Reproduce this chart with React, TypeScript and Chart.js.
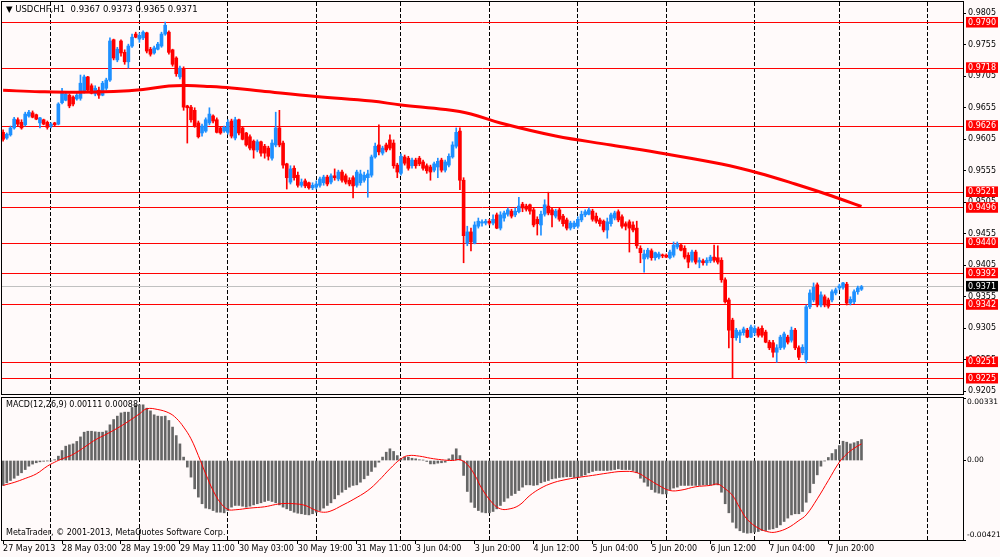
import React, { useEffect, useRef } from "react";
import { Chart, registerables } from "chart.js";
Chart.register(...registerables);

const FONT = "'DejaVu Sans', Verdana, sans-serif";
const BULL = "#1E90FF";
const BEAR = "#FF0000";

// ---- hourly candles USDCHF H1 (index 0 = 27 May 2013 11:00) ----
const openP = [
  0.9616,0.9607,0.9612,0.9623,0.9636,0.9632,0.9628,0.9642,0.9647,0.9644,
  0.9631,0.9636,0.9632,0.9626,0.9631,0.9629,0.9663,0.9667,0.9675,0.9672,
  0.9669,0.9670,0.9682,0.9704,0.9690,0.9677,0.9683,0.9675,0.9686,0.9699,
  0.9763,0.9731,0.9761,0.9743,0.9728,0.9753,0.9772,0.9764,0.9766,0.9774,
  0.9748,0.9742,0.9748,0.9753,0.9772,0.9775,0.9747,0.9734,0.9704,0.9717,
  0.9658,0.9656,0.9651,0.9631,0.9615,0.9618,0.9631,0.9642,0.9636,0.9623,
  0.9618,0.9616,0.9634,0.9607,0.9636,0.9623,0.9615,0.9609,0.9602,0.9588,
  0.9601,0.9594,0.9591,0.9575,0.9596,0.9623,0.9599,0.9566,0.9537,0.9559,
  0.9548,0.9532,0.9539,0.9536,0.9528,0.9529,0.9532,0.9536,0.9545,0.9537,
  0.9547,0.9542,0.9553,0.9547,0.9540,0.9544,0.9532,0.9536,0.9540,0.9544,
  0.9548,0.9577,0.9596,0.9583,0.9596,0.9604,0.9599,0.9564,0.9551,0.9577,
  0.9575,0.9563,0.9572,0.9575,0.9569,0.9563,0.9561,0.9556,0.9561,0.9572,
  0.9556,0.9564,0.9577,0.9594,0.9618,0.9540,0.9440,0.9458,0.9440,0.9467,
  0.9472,0.9472,0.9475,0.9472,0.9485,0.9464,0.9480,0.9486,0.9491,0.9485,
  0.9490,0.9502,0.9499,0.9501,0.9493,0.9478,0.9469,0.9486,0.9499,0.9493,
  0.9483,0.9493,0.9483,0.9477,0.9464,0.9466,0.9467,0.9477,0.9485,0.9486,
  0.9491,0.9483,0.9477,0.9475,0.9461,0.9471,0.9480,0.9490,0.9482,0.9471,
  0.9474,0.9469,0.9464,0.9432,0.9415,0.9418,0.9428,0.9417,0.9418,0.9421,
  0.9421,0.9417,0.9421,0.9434,0.9437,0.9432,0.9421,0.9413,0.9426,0.9410,
  0.9412,0.9409,0.9412,0.9418,0.9417,0.9413,0.9382,0.9350,0.9318,0.9290,
  0.9294,0.9298,0.9302,0.9291,0.9298,0.9304,0.9305,0.9299,0.9283,0.9282,
  0.9267,0.9274,0.9275,0.9291,0.9286,0.9302,0.9274,0.9266,0.9255,0.9339,
  0.9350,0.9374,0.9342,0.9355,0.9350,0.9350,0.9361,0.9369,0.9370,0.9375,
  0.9345,0.9347,0.9363,0.9367,
];
const highP = [
  0.9620,0.9615,0.9626,0.9640,0.9639,0.9636,0.9648,0.9651,0.9650,0.9645,
  0.9640,0.9637,0.9634,0.9631,0.9632,0.9663,0.9686,0.9680,0.9677,0.9674,
  0.9678,0.9707,0.9707,0.9705,0.9693,0.9690,0.9688,0.9697,0.9702,0.9766,
  0.9764,0.9751,0.9763,0.9747,0.9756,0.9772,0.9775,0.9774,0.9777,0.9775,
  0.9751,0.9753,0.9759,0.9775,0.9791,0.9777,0.9748,0.9736,0.9721,0.9720,
  0.9659,0.9659,0.9655,0.9634,0.9629,0.9639,0.9655,0.9644,0.9639,0.9624,
  0.9626,0.9636,0.9637,0.9640,0.9637,0.9624,0.9616,0.9612,0.9604,0.9604,
  0.9602,0.9597,0.9594,0.9604,0.9648,0.9651,0.9602,0.9567,0.9563,0.9563,
  0.9553,0.9542,0.9542,0.9537,0.9536,0.9539,0.9545,0.9548,0.9548,0.9550,
  0.9558,0.9556,0.9556,0.9550,0.9544,0.9547,0.9556,0.9556,0.9553,0.9556,
  0.9580,0.9599,0.9628,0.9594,0.9599,0.9612,0.9604,0.9567,0.9582,0.9580,
  0.9578,0.9575,0.9575,0.9578,0.9572,0.9566,0.9564,0.9569,0.9575,0.9575,
  0.9572,0.9582,0.9601,0.9623,0.9623,0.9544,0.9467,0.9464,0.9474,0.9480,
  0.9477,0.9478,0.9478,0.9485,0.9488,0.9490,0.9491,0.9496,0.9494,0.9496,
  0.9513,0.9505,0.9502,0.9502,0.9496,0.9482,0.9491,0.9509,0.9521,0.9496,
  0.9494,0.9496,0.9486,0.9480,0.9475,0.9475,0.9482,0.9491,0.9493,0.9496,
  0.9494,0.9488,0.9480,0.9477,0.9480,0.9488,0.9491,0.9493,0.9485,0.9474,
  0.9477,0.9474,0.9475,0.9436,0.9429,0.9432,0.9431,0.9426,0.9426,0.9423,
  0.9423,0.9429,0.9442,0.9442,0.9440,0.9436,0.9425,0.9429,0.9429,0.9417,
  0.9415,0.9417,0.9421,0.9437,0.9436,0.9417,0.9385,0.9353,0.9321,0.9305,
  0.9302,0.9307,0.9305,0.9310,0.9309,0.9307,0.9309,0.9302,0.9286,0.9286,
  0.9279,0.9294,0.9299,0.9294,0.9307,0.9305,0.9277,0.9279,0.9342,0.9366,
  0.9377,0.9377,0.9363,0.9358,0.9353,0.9366,0.9369,0.9375,0.9378,0.9378,
  0.9355,0.9366,0.9372,0.9373,
];
const lowP = [
  0.9602,0.9605,0.9610,0.9621,0.9626,0.9621,0.9626,0.9640,0.9639,0.9636,
  0.9623,0.9628,0.9621,0.9623,0.9626,0.9628,0.9661,0.9666,0.9655,0.9658,
  0.9667,0.9667,0.9678,0.9680,0.9677,0.9674,0.9670,0.9674,0.9683,0.9697,
  0.9731,0.9728,0.9737,0.9724,0.9718,0.9751,0.9766,0.9759,0.9763,0.9742,
  0.9737,0.9740,0.9747,0.9751,0.9770,0.9740,0.9721,0.9705,0.9701,0.9651,
  0.9599,0.9632,0.9624,0.9607,0.9610,0.9616,0.9628,0.9631,0.9615,0.9613,
  0.9616,0.9613,0.9607,0.9604,0.9612,0.9604,0.9594,0.9588,0.9575,0.9585,
  0.9578,0.9575,0.9572,0.9572,0.9593,0.9593,0.9559,0.9526,0.9534,0.9540,
  0.9529,0.9529,0.9528,0.9526,0.9525,0.9526,0.9529,0.9532,0.9531,0.9534,
  0.9540,0.9539,0.9537,0.9534,0.9531,0.9512,0.9529,0.9532,0.9537,0.9513,
  0.9545,0.9575,0.9580,0.9580,0.9585,0.9588,0.9559,0.9544,0.9548,0.9564,
  0.9556,0.9559,0.9559,0.9563,0.9556,0.9551,0.9540,0.9553,0.9544,0.9553,
  0.9553,0.9561,0.9575,0.9591,0.9525,0.9409,0.9436,0.9428,0.9439,0.9464,
  0.9467,0.9469,0.9469,0.9469,0.9463,0.9461,0.9475,0.9483,0.9480,0.9482,
  0.9488,0.9490,0.9491,0.9486,0.9466,0.9453,0.9453,0.9483,0.9485,0.9466,
  0.9480,0.9475,0.9467,0.9461,0.9461,0.9463,0.9464,0.9474,0.9482,0.9485,
  0.9475,0.9472,0.9467,0.9458,0.9448,0.9467,0.9477,0.9474,0.9464,0.9461,
  0.9426,0.9458,0.9432,0.9409,0.9394,0.9415,0.9413,0.9413,0.9415,0.9417,
  0.9417,0.9415,0.9418,0.9431,0.9428,0.9415,0.9401,0.9410,0.9407,0.9401,
  0.9405,0.9405,0.9409,0.9410,0.9407,0.9378,0.9345,0.9274,0.9226,0.9286,
  0.9282,0.9294,0.9290,0.9290,0.9294,0.9291,0.9291,0.9282,0.9271,0.9259,
  0.9251,0.9271,0.9272,0.9280,0.9283,0.9271,0.9255,0.9263,0.9250,0.9336,
  0.9347,0.9339,0.9339,0.9339,0.9337,0.9347,0.9358,0.9366,0.9367,0.9342,
  0.9342,0.9344,0.9359,0.9365,
];
const closeP = [
  0.9605,0.9613,0.9623,0.9637,0.9629,0.9623,0.9645,0.9648,0.9640,0.9637,
  0.9639,0.9629,0.9624,0.9629,0.9628,0.9661,0.9680,0.9677,0.9658,0.9661,
  0.9675,0.9694,0.9704,0.9683,0.9678,0.9686,0.9675,0.9694,0.9699,0.9761,
  0.9734,0.9748,0.9742,0.9728,0.9753,0.9767,0.9767,0.9770,0.9775,0.9745,
  0.9740,0.9750,0.9756,0.9772,0.9786,0.9743,0.9724,0.9709,0.9718,0.9656,
  0.9655,0.9636,0.9626,0.9609,0.9626,0.9636,0.9645,0.9634,0.9616,0.9615,
  0.9624,0.9632,0.9610,0.9636,0.9615,0.9605,0.9596,0.9591,0.9588,0.9601,
  0.9583,0.9583,0.9578,0.9599,0.9623,0.9596,0.9564,0.9544,0.9558,0.9544,
  0.9532,0.9537,0.9531,0.9528,0.9532,0.9534,0.9542,0.9545,0.9534,0.9547,
  0.9544,0.9553,0.9540,0.9537,0.9534,0.9531,0.9553,0.9550,0.9548,0.9550,
  0.9577,0.9594,0.9585,0.9591,0.9588,0.9591,0.9563,0.9553,0.9578,0.9567,
  0.9559,0.9572,0.9563,0.9566,0.9559,0.9555,0.9553,0.9566,0.9570,0.9556,
  0.9569,0.9578,0.9596,0.9616,0.9540,0.9452,0.9458,0.9442,0.9469,0.9475,
  0.9474,0.9475,0.9472,0.9478,0.9464,0.9485,0.9488,0.9493,0.9483,0.9491,
  0.9499,0.9496,0.9494,0.9491,0.9469,0.9471,0.9486,0.9501,0.9488,0.9485,
  0.9491,0.9478,0.9471,0.9464,0.9472,0.9472,0.9478,0.9486,0.9490,0.9493,
  0.9478,0.9475,0.9471,0.9461,0.9474,0.9485,0.9488,0.9477,0.9467,0.9467,
  0.9464,0.9461,0.9436,0.9425,0.9423,0.9429,0.9417,0.9425,0.9423,0.9420,
  0.9418,0.9426,0.9437,0.9439,0.9429,0.9418,0.9410,0.9426,0.9410,0.9413,
  0.9409,0.9413,0.9418,0.9413,0.9410,0.9382,0.9347,0.9302,0.9290,0.9302,
  0.9299,0.9304,0.9291,0.9307,0.9305,0.9294,0.9294,0.9283,0.9274,0.9267,
  0.9274,0.9291,0.9296,0.9283,0.9302,0.9274,0.9259,0.9275,0.9339,0.9361,
  0.9370,0.9342,0.9358,0.9342,0.9340,0.9363,0.9366,0.9372,0.9377,0.9345,
  0.9351,0.9363,0.9369,0.9371,
];

// ---- moving average (thick red), read at sample bars ----
const maIdx = [0,10,20,30,38,45,50,56,62,70,85,100,108,120,127,135,150,165,180,195,205,215,225,233];
const maVal = [0.96827,0.96805,0.96795,0.96808,0.96840,0.96895,0.96903,0.96887,0.96863,0.96816,0.96729,0.96657,0.96594,0.96522,0.96451,0.96308,0.96102,0.95959,0.95816,0.95657,0.95515,0.95340,0.95150,0.94983];

// ---- MACD(12,26,9) ----
const macdHist = [
  -0.00132,-0.00118,-0.00106,-0.00094,-0.00079,-0.00065,-0.00048,-0.00030,-0.00019,-0.00012,
  -0.00007,-0.00004,-0.00002,-0.00002,0.00004,0.00023,0.00053,0.00076,0.00083,0.00088,
  0.00101,0.00125,0.00150,0.00155,0.00155,0.00152,0.00150,0.00150,0.00157,0.00189,
  0.00217,0.00235,0.00252,0.00256,0.00256,0.00281,0.00295,0.00295,0.00295,0.00277,
  0.00263,0.00242,0.00235,0.00233,0.00235,0.00212,0.00177,0.00132,0.00088,0.00018,
  -0.00035,-0.00088,-0.00150,-0.00194,-0.00229,-0.00252,-0.00256,-0.00265,-0.00274,-0.00274,
  -0.00277,-0.00265,-0.00247,-0.00238,-0.00238,-0.00242,-0.00247,-0.00242,-0.00235,-0.00229,
  -0.00224,-0.00217,-0.00212,-0.00217,-0.00224,-0.00235,-0.00247,-0.00256,-0.00265,-0.00274,
  -0.00279,-0.00282,-0.00286,-0.00288,-0.00282,-0.00274,-0.00265,-0.00252,-0.00238,-0.00224,
  -0.00203,-0.00182,-0.00168,-0.00154,-0.00141,-0.00132,-0.00129,-0.00115,-0.00097,-0.00079,
  -0.00058,-0.00035,-0.00009,0.00018,0.00044,0.00062,0.00048,0.00026,0.00009,0.00018,
  0.00018,0.00012,0.00009,0.00004,0.00002,-0.00005,-0.00018,-0.00018,-0.00014,-0.00012,
  -0.00009,0.00009,0.00030,0.00062,0.00026,-0.00079,-0.00164,-0.00221,-0.00249,-0.00265,
  -0.00274,-0.00277,-0.00277,-0.00270,-0.00256,-0.00238,-0.00217,-0.00199,-0.00185,-0.00175,
  -0.00159,-0.00141,-0.00129,-0.00129,-0.00132,-0.00129,-0.00118,-0.00111,-0.00106,-0.00097,
  -0.00094,-0.00090,-0.00088,-0.00086,-0.00086,-0.00090,-0.00088,-0.00083,-0.00076,-0.00065,
  -0.00058,-0.00053,-0.00053,-0.00053,-0.00053,-0.00051,-0.00048,-0.00044,-0.00048,-0.00048,
  -0.00048,-0.00053,-0.00065,-0.00094,-0.00115,-0.00136,-0.00154,-0.00168,-0.00173,-0.00177,
  -0.00177,-0.00154,-0.00146,-0.00141,-0.00132,-0.00132,-0.00132,-0.00132,-0.00132,-0.00132,
  -0.00129,-0.00129,-0.00129,-0.00129,-0.00129,-0.00168,-0.00229,-0.00277,-0.00327,-0.00358,
  -0.00372,-0.00381,-0.00385,-0.00383,-0.00379,-0.00376,-0.00371,-0.00371,-0.00365,-0.00362,
  -0.00355,-0.00341,-0.00323,-0.00305,-0.00288,-0.00282,-0.00282,-0.00270,-0.00221,-0.00171,
  -0.00122,-0.00076,-0.00030,-0.00002,0.00016,0.00037,0.00058,0.00079,0.00102,0.00097,
  0.00088,0.00094,0.00101,0.00111,
];
const sigIdx = [0,3,6,9,12,14,16,18,20,23,25,28,31,34,37,39,42,45,47,49,51,53,55,57,59,61,63,67,71,74,76,79,82,85,87,89,92,95,99,102,105,108,110,113,116,119,122,124,126,128,130,133,135,137,140,143,146,149,152,156,160,164,168,172,175,178,181,184,188,192,194,196,198,200,202,205,208,210,213,216,218,221,224,227,229,231,233];
const sigVal = [-0.00132,-0.00116,-0.00095,-0.00071,-0.00030,-0.00009,0.00009,0.00023,0.00044,0.00083,0.00109,0.00139,0.00171,0.00207,0.00247,0.00274,0.00270,0.00252,0.00224,0.00177,0.00115,0.00026,-0.00071,-0.00159,-0.00224,-0.00259,-0.00261,-0.00252,-0.00245,-0.00233,-0.00228,-0.00229,-0.00238,-0.00265,-0.00274,-0.00267,-0.00238,-0.00207,-0.00159,-0.00106,-0.00044,0.00009,0.00026,0.00023,0.00012,0.00004,0.00000,0.00004,-0.00021,-0.00076,-0.00150,-0.00229,-0.00256,-0.00258,-0.00238,-0.00185,-0.00146,-0.00120,-0.00104,-0.00090,-0.00079,-0.00067,-0.00058,-0.00064,-0.00097,-0.00132,-0.00159,-0.00157,-0.00139,-0.00132,-0.00125,-0.00150,-0.00185,-0.00252,-0.00312,-0.00358,-0.00379,-0.00378,-0.00357,-0.00318,-0.00288,-0.00203,-0.00106,-0.00009,0.00034,0.00065,0.00088];

// ---- horizontal levels, axis ticks, time labels ----
const levelPrices = [0.9790,0.9718,0.9626,0.9521,0.9496,0.9440,0.9392,0.9342,0.9251,0.9225];
const bidPrice = 0.9371;
const priceTicks = [0.9205,0.9255,0.9305,0.9355,0.9405,0.9455,0.9505,0.9555,0.9605,0.9655,0.9705,0.9755,0.9805];
const macdTickVals = [0.00331, 0, -0.00421];
const macdTickText = ["0.00331", "0.00", "-0.00421"];
const timeIdx = [0,16,32,48,64,80,96,112,128,144,160,176,192,208,224];
const timeText = ["27 May 2013","28 May 03:00","28 May 19:00","29 May 11:00","30 May 03:00","30 May 19:00","31 May 11:00","3 Jun 04:00","3 Jun 20:00","4 Jun 12:00","5 Jun 04:00","5 Jun 20:00","6 Jun 12:00","7 Jun 04:00","7 Jun 20:00"];
const dayIdx = [13,37,61,85,108,132,156,180,204,227,251];

const XMIN = -0.3;
const XMAX = 260.56;
const PMIN = 0.92007;
const PMAX = 0.98229;
const MMIN = -0.00421;
const MMAX = 0.00331;

const near = (a: number, b: number) => Math.abs(a - b) < 1e-7;
const kindOf = (v: number | undefined) => {
  if (v === undefined) return "tick";
  if (levelPrices.some((l) => near(l, v))) return "level";
  if (near(v, bidPrice)) return "bid";
  return "tick";
};

const noPad = (s: any) => {
  s.paddingTop = 0;
  s.paddingBottom = 0;
  s.paddingLeft = 0;
  s.paddingRight = 0;
};

const framePlugin = {
  id: "frame",
  afterDraw(chart: any) {
    const { ctx, chartArea: a } = chart;
    ctx.save();
    ctx.strokeStyle = "#000";
    ctx.lineWidth = 1;
    ctx.strokeRect(Math.round(a.left) - 0.5, Math.round(a.top) - 0.5, Math.round(a.right - a.left) + 1, Math.round(a.bottom - a.top) + 1);
    ctx.restore();
  },
};

function dayGridAxis(position: string) {
  return {
    type: "linear",
    position,
    min: XMIN,
    max: XMAX,
    offset: false,
    display: true,
    afterBuildTicks: (s: any) => { s.ticks = dayIdx.map((v) => ({ value: v })); },
    afterFit: (s: any) => { s.height = 0; noPad(s); },
    ticks: { display: false },
    grid: { color: "#000", lineWidth: 1, drawTicks: false, offset: false },
    border: { display: false, dash: [4, 2] },
  };
}

function mainConfig(): any {
  const colors = openP.map((o, i) => (closeP[i] >= o ? BULL : BEAR));
  const bodies = openP.map((o, i) => ({ x: i, y: [o, closeP[i]] }));
  const wicks = openP.map((_, i) => ({ x: i, y: [lowP[i], highP[i]] }));
  return {
    type: "bar",
    data: {
      datasets: [
        { type: "line", data: maIdx.map((x, k) => ({ x, y: maVal[k] })), borderColor: "#FF0000", borderWidth: 3, pointRadius: 0, tension: 0.4, order: 0 },
        { type: "bar", data: bodies, backgroundColor: colors, borderWidth: 0, barThickness: 3, maxBarThickness: 3, grouped: false, minBarLength: 1, order: 1 },
        { type: "bar", data: wicks, backgroundColor: colors, borderWidth: 0, barThickness: 1, maxBarThickness: 1, grouped: false, order: 2 },
      ],
    },
    options: {
      responsive: false,
      animation: false,
      devicePixelRatio: 1,
      events: [],
      layout: { padding: { left: 2, top: 2, right: 0, bottom: 2 } },
      plugins: { legend: { display: false }, tooltip: { enabled: false } },
      scales: {
        x: dayGridAxis("bottom"),
        y: {
          type: "linear",
          position: "right",
          min: PMIN,
          max: PMAX,
          beginAtZero: false,
          afterFit: (s: any) => { s.width = 37; noPad(s); },
          afterBuildTicks: (s: any) => {
            s.ticks = [...priceTicks, ...levelPrices, bidPrice].map((v) => ({ value: v }));
          },
          ticks: {
            autoSkip: false,
            padding: 2,
            font: { family: FONT, size: 8 },
            color: (c: any) => (kindOf(c.tick?.value) === "tick" ? "#000" : "#FFF"),
            showLabelBackdrop: (c: any) => kindOf(c.tick?.value) !== "tick",
            backdropColor: (c: any) => (kindOf(c.tick?.value) === "bid" ? "#000" : "#FF0000"),
            backdropPadding: { left: 2, right: 2, top: 1, bottom: 0 },
            callback: (v: any) => Number(v).toFixed(4),
          },
          grid: {
            drawTicks: true,
            tickLength: 3,
            lineWidth: 1,
            color: (c: any) => {
              const k = kindOf(c.tick?.value);
              return k === "level" ? "#FF0000" : k === "bid" ? "#C0C0C0" : "rgba(0,0,0,0)";
            },
            tickColor: (c: any) => (kindOf(c.tick?.value) === "tick" ? "#000" : "rgba(0,0,0,0)"),
          },
          border: { display: true, color: "#000", width: 1 },
        },
      },
    },
    plugins: [framePlugin],
  };
}

function macdConfig(): any {
  return {
    type: "bar",
    data: {
      datasets: [
        { type: "line", data: sigIdx.map((x, k) => ({ x, y: sigVal[k] })), borderColor: "#FF0000", borderWidth: 1, pointRadius: 0, tension: 0.4, order: 0 },
        { type: "bar", data: macdHist.map((v, i) => ({ x: i, y: v })), backgroundColor: "#666666", borderWidth: 0, barThickness: 2, maxBarThickness: 2, grouped: false, order: 1 },
      ],
    },
    options: {
      responsive: false,
      animation: false,
      devicePixelRatio: 1,
      events: [],
      layout: { padding: { left: 2, top: 2, right: 0, bottom: 0 } },
      plugins: { legend: { display: false }, tooltip: { enabled: false } },
      scales: {
        x: {
          type: "linear",
          position: "bottom",
          min: XMIN,
          max: XMAX,
          offset: false,
          afterBuildTicks: (s: any) => { s.ticks = timeIdx.map((v) => ({ value: v })); },
          afterFit: (s: any) => { s.height = 17; noPad(s); },
          ticks: {
            autoSkip: false,
            maxRotation: 0,
            minRotation: 0,
            align: "start",
            padding: 0,
            font: { family: FONT, size: 8 },
            color: "#000",
            callback: (v: any) => {
              const k = timeIdx.indexOf(Number(v));
              return k >= 0 ? timeText[k] : "";
            },
          },
          grid: { drawOnChartArea: false, drawTicks: true, tickLength: 4, tickColor: "#000", offset: false },
          border: { display: true, color: "#000" },
        },
        xd: dayGridAxis("top"),
        y: {
          type: "linear",
          position: "right",
          min: MMIN,
          max: MMAX,
          beginAtZero: false,
          afterFit: (s: any) => { s.width = 37; noPad(s); },
          afterBuildTicks: (s: any) => { s.ticks = macdTickVals.map((v) => ({ value: v })); },
          ticks: {
            autoSkip: false,
            padding: 1,
            font: { family: FONT, size: 7.5 },
            color: "#000",
            callback: (v: any) => {
              const k = macdTickVals.findIndex((t) => near(t, Number(v)));
              if (k === 0) return ["", macdTickText[0]];
              if (k === macdTickVals.length - 1) return [macdTickText[k], ""];
              return k >= 0 ? macdTickText[k] : "";
            },
          },
          grid: { drawOnChartArea: false, drawTicks: true, tickLength: 3, tickColor: "#000" },
          border: { display: true, color: "#000" },
        },
      },
    },
    plugins: [framePlugin],
  };
}

export default function App() {
  const mainRef = useRef<HTMLCanvasElement>(null);
  const macdRef = useRef<HTMLCanvasElement>(null);

  useEffect(() => {
    document.body.style.margin = "0";
    const c1 = new Chart(mainRef.current as HTMLCanvasElement, mainConfig());
    const c2 = new Chart(macdRef.current as HTMLCanvasElement, macdConfig());
    return () => {
      c1.destroy();
      c2.destroy();
    };
  }, []);

  const txt: React.CSSProperties = {
    position: "absolute",
    left: 6,
    fontFamily: FONT,
    fontSize: 8,
    lineHeight: "10px",
    color: "#000",
    whiteSpace: "pre",
  };

  return (
    <div style={{ position: "fixed", left: 0, top: 0, width: 1000, height: 557, background: "#FFFAFA", overflow: "hidden" }}>
      <canvas ref={mainRef} width={1000} height={396} style={{ position: "absolute", left: 0, top: 0, width: 1000, height: 396 }} />
      <canvas ref={macdRef} width={1000} height={161} style={{ position: "absolute", left: 0, top: 396, width: 1000, height: 161 }} />
      <div style={{ ...txt, top: 4, fontSize: 8.5 }}>{"▼ USDCHF,H1  0.9367 0.9373 0.9365 0.9371"}</div>
      <div style={{ ...txt, top: 400 }}>{"MACD(12,26,9) 0.00111 0.00088"}</div>
      <div style={{ ...txt, top: 528 }}>{"MetaTrader, © 2001-2013, MetaQuotes Software Corp."}</div>
    </div>
  );
}
